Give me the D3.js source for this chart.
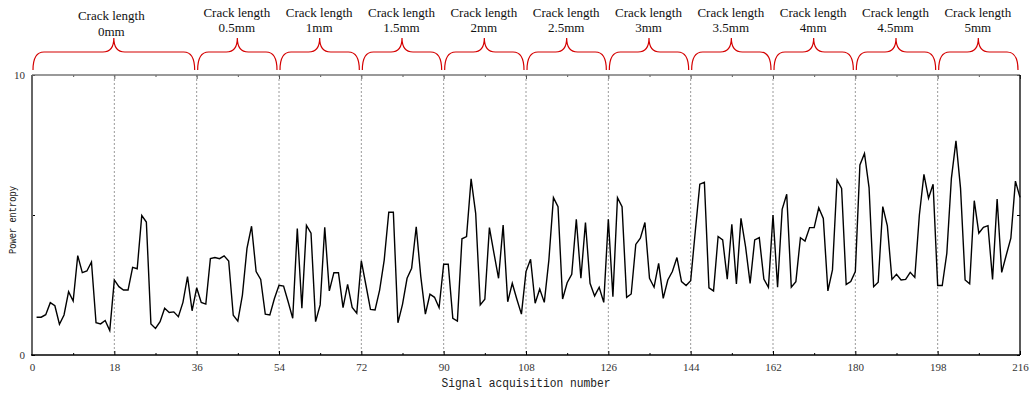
<!DOCTYPE html>
<html>
<head>
<meta charset="utf-8">
<script src="https://cdn.jsdelivr.net/npm/d3@7"></script>
<style>
  html, body { margin: 0; padding: 0; background: #fff; }
  svg { display: block; }
</style>
</head>
<body>
<svg id="chart" width="1032" height="396"></svg>
<script>
// Power entropy of each acquired signal, samples 1..216
const powerEntropy = [
  1.35, 1.35, 1.44, 1.87, 1.76, 1.10, 1.43, 2.26, 1.93, 3.55,
  2.94, 3.00, 3.32, 1.15, 1.11, 1.23, 0.87, 2.68, 2.44, 2.32,
  2.32, 3.13, 3.08, 4.98, 4.75, 1.11, 0.95, 1.19, 1.67, 1.52,
  1.54, 1.37, 1.88, 2.80, 1.58, 2.40, 1.88, 1.82, 3.44, 3.48,
  3.44, 3.54, 3.36, 1.42, 1.21, 2.14, 3.81, 4.60, 2.98, 2.70,
  1.46, 1.43, 2.02, 2.49, 2.46, 1.90, 1.31, 4.52, 1.67, 4.63,
  4.35, 1.19, 1.79, 4.56, 2.29, 2.94, 2.94, 1.69, 2.52, 1.70,
  1.49, 3.36, 2.50, 1.63, 1.61, 2.32, 3.39, 5.10, 5.10, 1.15,
  1.81, 2.74, 3.10, 4.58, 2.80, 1.46, 2.17, 2.06, 1.69, 3.24,
  3.24, 1.31, 1.21, 4.15, 4.23, 6.29, 5.06, 1.79, 1.99, 4.55,
  3.63, 2.74, 4.64, 1.90, 2.56, 1.99, 1.46, 2.98, 3.42, 1.85,
  2.36, 1.88, 3.39, 5.62, 5.30, 2.00, 2.58, 2.88, 4.85, 2.74,
  4.73, 2.56, 2.11, 2.42, 1.88, 4.85, 2.08, 5.62, 5.30, 2.06,
  2.18, 3.95, 4.17, 4.73, 2.74, 2.42, 3.27, 2.02, 2.68, 2.98,
  3.48, 2.62, 2.48, 2.65, 4.40, 6.10, 6.17, 2.40, 2.29, 4.23,
  4.11, 2.71, 4.67, 2.54, 4.88, 3.87, 2.56, 4.11, 4.19, 2.71,
  2.42, 5.00, 2.42, 5.20, 5.74, 2.42, 2.62, 4.19, 4.07, 4.55,
  4.55, 5.26, 4.88, 2.29, 3.04, 6.25, 5.95, 2.52, 2.62, 2.98,
  6.79, 7.20, 5.98, 2.44, 2.60, 5.30, 4.61, 2.70, 2.88, 2.68,
  2.70, 2.95, 2.77, 5.00, 6.45, 5.60, 6.10, 2.48, 2.48, 3.63,
  6.31, 7.65, 5.95, 2.68, 2.54, 5.51, 4.35, 4.56, 4.62, 2.70,
  5.57, 2.95, 3.57, 4.17, 6.21, 5.63
];
const acquisitionNumber = powerEntropy.map((_, i) => i + 1);

// Crack length groups: each brace spans [start, end] in acquisition number
const groupStart = [0, 36, 54, 72, 90, 108, 126, 144, 162, 180, 198];
const groupEnd   = [36, 54, 72, 90, 108, 126, 144, 162, 180, 198, 216];
const crackLength = ["0mm", "0.5mm", "1mm", "1.5mm", "2mm", "2.5mm", "3mm", "3.5mm", "4mm", "4.5mm", "5mm"];

// Dashed separators between recordings
const dividers = [18, 36, 54, 72, 90, 108, 126, 144, 162, 180, 198];

// Axis ticks
const xMajorTicks = [0, 18, 36, 54, 72, 90, 108, 126, 144, 162, 180, 198, 216];
const xMinorTicks = [9, 27, 45, 63, 81, 99, 117, 135, 153, 171, 189, 207];
const yTicks = [0, 5, 10];
const yTickLabels = ["0", "", "10"];

const svg = d3.select("#chart");
const plotLeft = 32, plotRight = 1020, plotTop = 75, plotBottom = 355;

const x = d3.scaleLinear().domain([0, 216]).range([plotLeft, plotRight]);
const y = d3.scaleLinear().domain([0, 10]).range([plotBottom, plotTop]);

// dashed vertical separators
svg.append("g")
  .selectAll("line")
  .data(dividers)
  .join("line")
  .attr("x1", d => x(d)).attr("x2", d => x(d))
  .attr("y1", plotTop).attr("y2", plotBottom)
  .attr("stroke", "#9a9a9a")
  .attr("stroke-width", 1)
  .attr("stroke-dasharray", "2,2");

// bottom axis (major ticks with labels, minor ticks without)
const xAxis = svg.append("g")
  .attr("transform", `translate(0,${plotBottom})`)
  .call(d3.axisBottom(x).tickValues(xMajorTicks).tickSize(-4).tickPadding(8).tickFormat(d3.format("d")));
xAxis.select(".domain").remove();
xAxis.selectAll("text")
  .attr("font-family", "'Liberation Serif', 'Times New Roman', serif")
  .attr("font-size", 11)
  .attr("fill", "#333");
xAxis.selectAll(".tick line").attr("stroke", "#000");

svg.append("g")
  .attr("transform", `translate(0,${plotBottom})`)
  .call(d3.axisBottom(x).tickValues(xMinorTicks).tickSize(-2).tickFormat(""))
  .call(g => g.select(".domain").remove());

// top axis ticks
svg.append("g")
  .attr("transform", `translate(0,${plotTop})`)
  .call(d3.axisTop(x).tickValues(xMajorTicks).tickSize(-4).tickFormat(""))
  .call(g => g.select(".domain").remove())
  .call(g => g.selectAll("line").attr("stroke", "#555"));
svg.append("g")
  .attr("transform", `translate(0,${plotTop})`)
  .call(d3.axisTop(x).tickValues(xMinorTicks).tickSize(-2).tickFormat(""))
  .call(g => g.select(".domain").remove())
  .call(g => g.selectAll("line").attr("stroke", "#555"));

// left axis
const yAxis = svg.append("g")
  .attr("transform", `translate(${plotLeft},0)`)
  .call(d3.axisLeft(y).tickValues(yTicks).tickSize(-3).tickPadding(7)
    .tickFormat((d, i) => yTickLabels[i]));
yAxis.select(".domain").remove();
yAxis.selectAll("text")
  .attr("font-family", "'Liberation Serif', 'Times New Roman', serif")
  .attr("font-size", 11)
  .attr("fill", "#333");
yAxis.selectAll(".tick line").attr("stroke", "#000");

// right axis ticks
svg.append("g")
  .attr("transform", `translate(${plotRight},0)`)
  .call(d3.axisRight(y).tickValues(yTicks).tickSize(-3).tickFormat(""))
  .call(g => g.select(".domain").remove());

// frame
svg.append("line").attr("x1", plotLeft).attr("x2", plotRight).attr("y1", plotTop).attr("y2", plotTop)
  .attr("stroke", "#777").attr("stroke-width", 1.5);
svg.append("line").attr("x1", plotRight).attr("x2", plotRight).attr("y1", plotTop).attr("y2", plotBottom)
  .attr("stroke", "#000").attr("stroke-width", 1.3);
svg.append("line").attr("x1", plotLeft).attr("x2", plotLeft).attr("y1", plotTop).attr("y2", plotBottom)
  .attr("stroke", "#666").attr("stroke-width", 2);
svg.append("line").attr("x1", plotLeft - 1).attr("x2", plotRight).attr("y1", plotBottom).attr("y2", plotBottom)
  .attr("stroke", "#000").attr("stroke-width", 1.6);

// power entropy curve
const line = d3.line()
  .x((d, i) => x(acquisitionNumber[i]))
  .y(d => y(d));
svg.append("path")
  .datum(powerEntropy)
  .attr("d", line)
  .attr("fill", "none")
  .attr("stroke", "#000")
  .attr("stroke-width", 1.4)
  .attr("stroke-linejoin", "miter");

// curly braces over each crack length group
const braceBottom = 70, braceMid = 52, braceTip = 38;
function bracePath(x0, x1) {
  const xc = (x0 + x1) / 2, r = 11, t = 11;
  return `M${x0},${braceBottom}` +
    `Q${x0},${braceMid} ${x0 + r},${braceMid}` +
    `L${xc - t},${braceMid}` +
    `Q${xc},${braceMid} ${xc},${braceTip}` +
    `Q${xc},${braceMid} ${xc + t},${braceMid}` +
    `L${x1 - r},${braceMid}` +
    `Q${x1},${braceMid} ${x1},${braceBottom}`;
}
const groups = svg.append("g").selectAll("g")
  .data(crackLength)
  .join("g");
groups.append("path")
  .attr("d", (d, i) => bracePath(x(groupStart[i]) + 1, x(groupEnd[i]) - 2))
  .attr("fill", "none")
  .attr("stroke", "#d40000")
  .attr("stroke-width", 1.2);
groups.append("text")
  .attr("x", (d, i) => (x(groupStart[i]) + x(groupEnd[i])) / 2 - (i === 0 ? 3 : 1))
  .attr("y", (d, i) => i === 0 ? 20 : 17.3)
  .attr("text-anchor", "middle")
  .attr("font-family", "'Liberation Serif', 'Times New Roman', serif")
  .attr("font-size", 13)
  .attr("fill", "#111")
  .text("Crack length");
groups.append("text")
  .attr("x", (d, i) => (x(groupStart[i]) + x(groupEnd[i])) / 2 - (i === 0 ? 3 : 1))
  .attr("y", (d, i) => i === 0 ? 35.5 : 32.3)
  .attr("text-anchor", "middle")
  .attr("font-family", "'Liberation Serif', 'Times New Roman', serif")
  .attr("font-size", 13)
  .attr("fill", "#111")
  .text(d => d);

// axis titles
svg.append("text")
  .attr("x", (plotLeft + plotRight) / 2)
  .attr("y", 386.5)
  .attr("text-anchor", "middle")
  .attr("font-family", "'Liberation Mono', 'DejaVu Sans Mono', monospace")
  .attr("font-size", 12)
  .attr("textLength", 169)
  .attr("lengthAdjust", "spacingAndGlyphs")
  .attr("fill", "#222")
  .text("Signal acquisition number");
svg.append("text")
  .attr("transform", `translate(16,220) rotate(-90)`)
  .attr("text-anchor", "middle")
  .attr("font-family", "'Liberation Mono', 'DejaVu Sans Mono', monospace")
  .attr("font-size", 10.5)
  .attr("textLength", 68)
  .attr("lengthAdjust", "spacingAndGlyphs")
  .attr("fill", "#222")
  .text("Power entropy");
</script>
</body>
</html>
